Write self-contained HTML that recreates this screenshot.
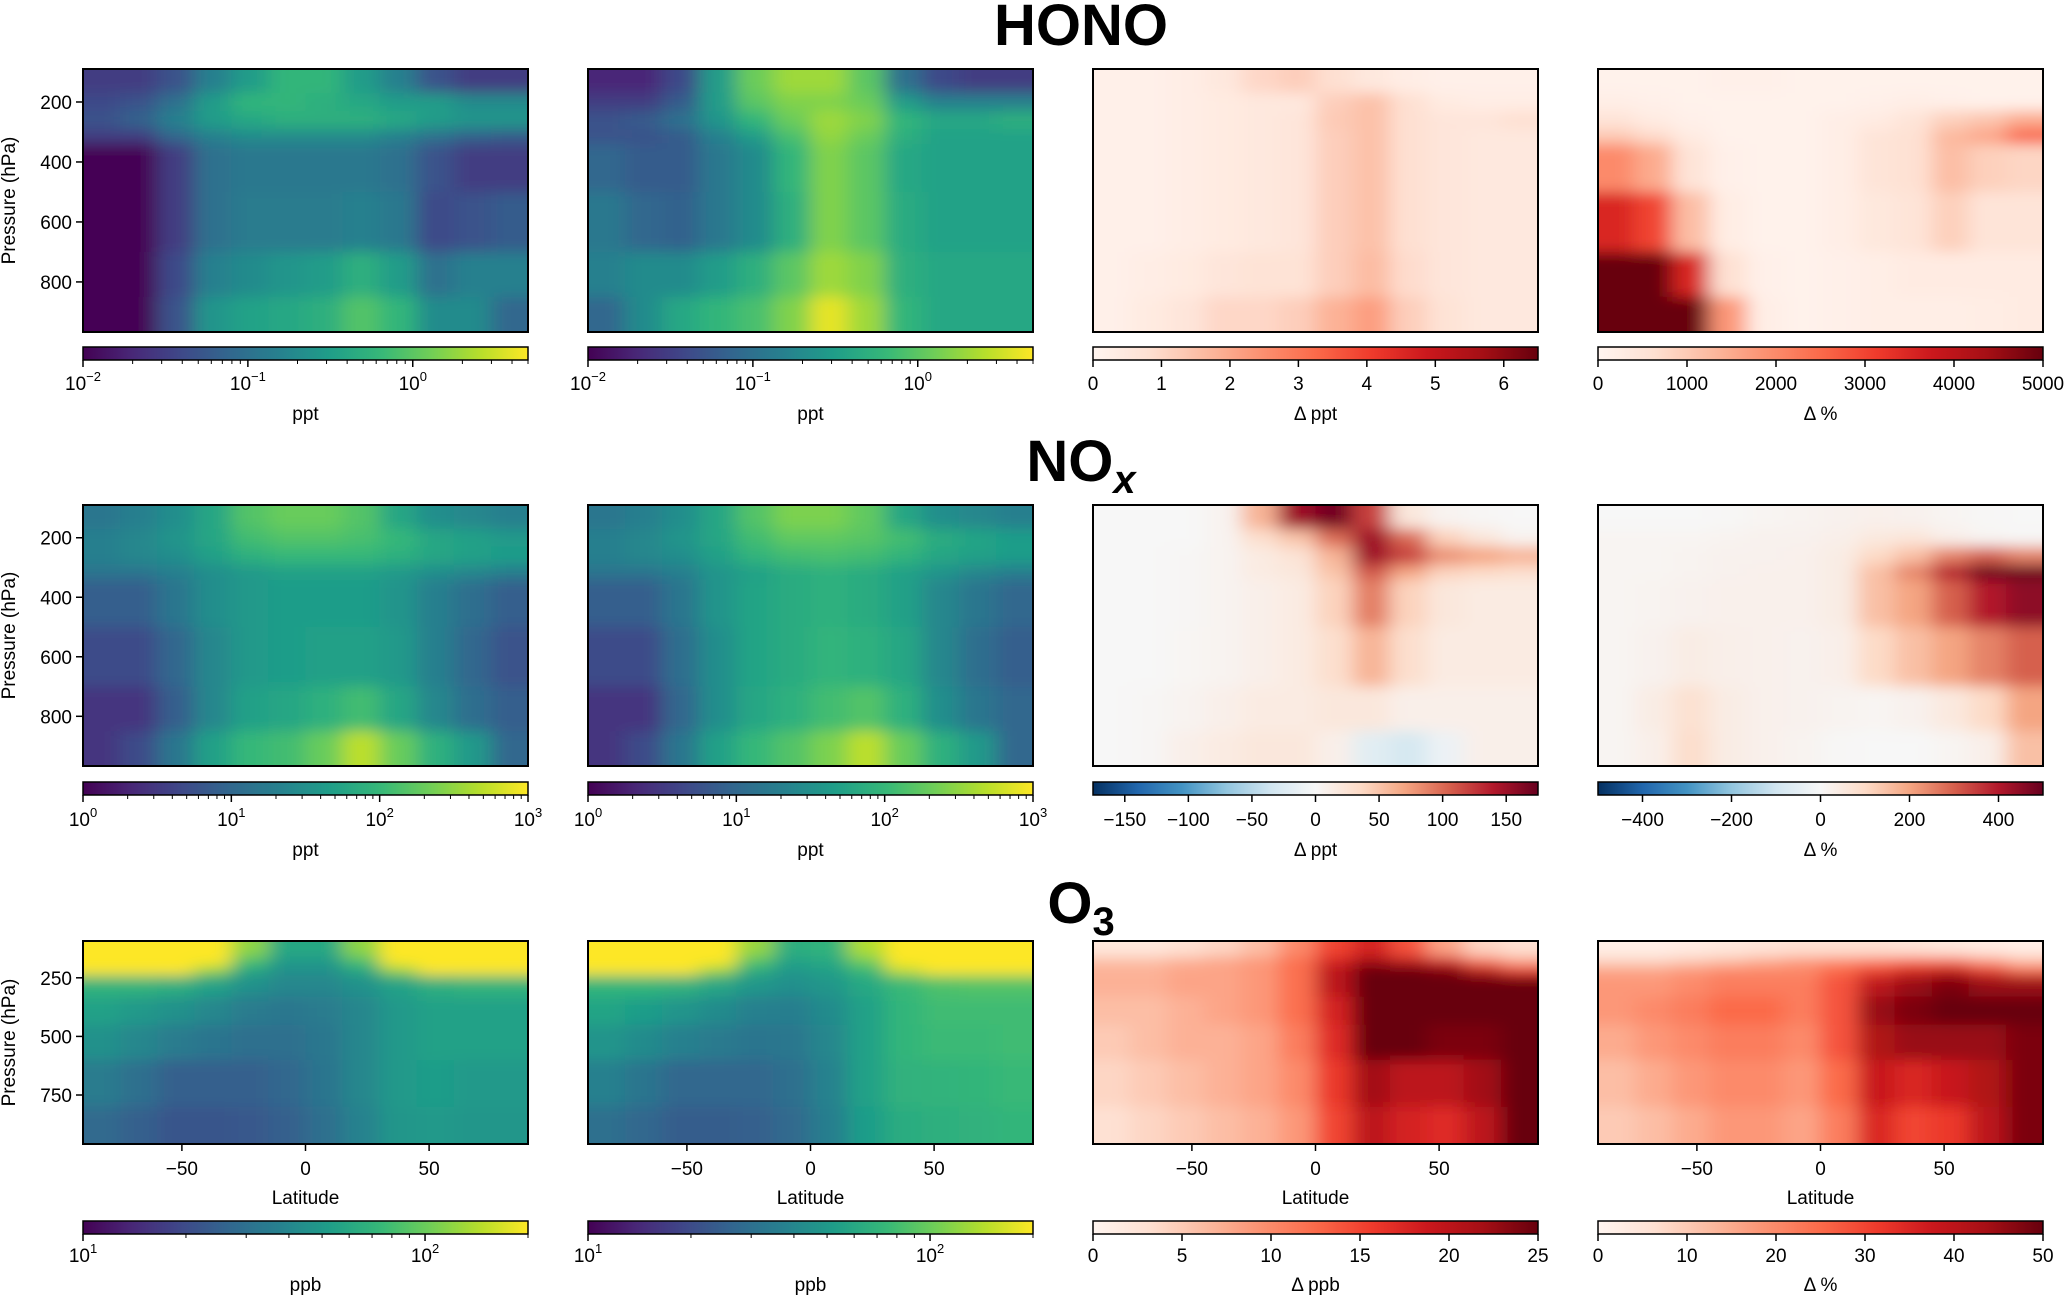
<!DOCTYPE html>
<html><head><meta charset="utf-8"><style>
html,body{margin:0;padding:0;background:#fff;}
svg{display:block;font-family:"Liberation Sans","DejaVu Sans",sans-serif;}
</style></head><body>
<svg id="fig" width="2067" height="1296" viewBox="0 0 2067 1296" xmlns="http://www.w3.org/2000/svg">
<defs>
<filter id="soft" x="-10%" y="-10%" width="120%" height="120%">
<feGaussianBlur stdDeviation="10 7"/>
</filter>
</defs>
<text x="1081" y="45" text-anchor="middle" font-size="58" font-weight="bold">HONO</text>
<text x="1081" y="481" text-anchor="middle" font-size="58" font-weight="bold">NO<tspan font-style="italic" font-size="40" dy="12">x</tspan></text>
<text x="1081" y="923" text-anchor="middle" font-size="58" font-weight="bold">O<tspan font-size="40" dy="12">3</tspan></text>
<g id="panels"></g>
</svg>
<script>
// ---------- data ----------
const latitudes = [-82.5,-67.5,-52.5,-37.5,-22.5,-7.5,7.5,22.5,37.5,52.5,67.5,82.5];
const pEdgesA = [90,170,230,290,340,500,700,850,967];
const pEdgesO3 = [93,160,200,240,330,450,600,800,959];
const yTicksA = [200,400,600,800];
const yTicksO3 = [250,500,750];
const latTicks = [-50,0,50];

const honoBase = [
[0.03,0.03,0.05,0.15,0.3,0.6,0.6,0.3,0.15,0.05,0.03,0.03],
[0.04,0.05,0.1,0.3,0.6,0.6,0.5,0.4,0.3,0.3,0.2,0.2],
[0.05,0.07,0.15,0.3,0.4,0.5,0.5,0.5,0.4,0.3,0.25,0.25],
[0.03,0.03,0.08,0.15,0.2,0.2,0.2,0.2,0.15,0.1,0.07,0.06],
[0.01,0.01,0.03,0.1,0.12,0.12,0.12,0.12,0.1,0.05,0.03,0.03],
[0.01,0.01,0.03,0.1,0.13,0.13,0.13,0.15,0.12,0.04,0.05,0.06],
[0.01,0.01,0.04,0.15,0.2,0.25,0.3,0.5,0.3,0.1,0.15,0.15],
[0.01,0.01,0.05,0.25,0.35,0.4,0.5,0.9,0.6,0.2,0.2,0.08]];
const honoPert = [
[0.02,0.02,0.04,0.3,1.2,2,2,1,0.1,0.04,0.03,0.03],
[0.03,0.03,0.06,0.3,1,1.5,1.5,1.2,0.3,0.15,0.15,0.15],
[0.05,0.06,0.1,0.25,0.6,1.2,2,1.5,0.6,0.4,0.4,0.5],
[0.05,0.05,0.06,0.15,0.3,0.8,1.8,1.2,0.5,0.35,0.35,0.35],
[0.08,0.06,0.06,0.12,0.2,0.6,1.5,1,0.4,0.35,0.35,0.35],
[0.12,0.08,0.07,0.12,0.2,0.5,1.5,1,0.45,0.35,0.35,0.35],
[0.15,0.2,0.2,0.3,0.5,1,2,1.5,0.5,0.4,0.4,0.4],
[0.08,0.2,0.4,0.6,0.8,1.5,4,2,0.6,0.4,0.4,0.4]];
const honoDiff = [
[0.2,0.2,0.3,0.5,1,1.2,0.8,0.5,0.3,0.2,0.2,0.2],
[0.2,0.2,0.3,0.4,0.5,0.5,1.2,1.5,0.8,0.4,0.3,0.3],
[0.2,0.2,0.3,0.4,0.5,0.6,1.3,1.5,0.8,0.6,0.6,0.8],
[0.2,0.2,0.3,0.4,0.5,0.6,1.2,1.5,0.8,0.6,0.5,0.5],
[0.2,0.2,0.3,0.4,0.5,0.6,1.2,1.5,0.8,0.6,0.5,0.5],
[0.2,0.2,0.3,0.4,0.5,0.6,1.2,1.5,0.8,0.6,0.5,0.5],
[0.2,0.3,0.4,0.6,0.7,0.7,1.2,1.6,0.9,0.6,0.5,0.5],
[0.2,0.4,0.6,1,1,1.2,1.8,2.2,1.2,0.7,0.5,0.5]];
const honoPct = [
[100,100,100,150,150,100,100,100,100,100,100,100],
[200,150,100,100,100,100,100,150,200,150,100,100],
[500,300,150,100,100,100,200,300,500,900,1100,1500],
[1000,700,300,100,100,100,200,500,600,1300,1600,2600],
[2000,1500,500,150,100,100,200,500,600,1200,900,800],
[3500,3000,1200,250,100,100,200,400,500,900,500,500],
[5000,5000,3500,600,150,100,150,200,300,300,300,300],
[5000,5000,5000,1800,200,100,150,200,200,200,250,300]];
const noxBase = [
[15,20,30,60,150,200,200,150,60,30,25,20],
[20,25,35,60,120,150,150,130,100,60,50,40],
[20,25,30,50,80,100,100,100,80,60,50,45],
[15,15,20,30,40,50,50,50,40,30,25,20],
[8,8,15,30,40,45,45,45,35,20,12,8],
[5,5,10,25,40,45,50,50,40,20,10,6],
[3,3,8,25,50,60,80,120,60,25,12,8],
[3,5,15,50,100,120,200,500,200,80,40,10]];
const noxPert = [
[15,20,30,60,150,250,250,180,60,30,25,20],
[20,25,35,60,120,180,180,160,120,70,55,45],
[20,25,30,50,90,120,130,120,90,60,50,45],
[15,15,20,35,50,70,80,70,50,35,25,20],
[8,8,15,35,55,70,80,70,50,25,15,10],
[5,5,12,30,55,70,90,80,60,25,12,8],
[3,3,10,30,60,80,120,150,80,30,15,10],
[3,5,15,50,100,150,250,500,200,80,40,10]];
const noxDiff = [
[0,0,0,5,60,150,170,120,20,5,2,0],
[0,0,0,5,30,50,100,150,100,40,20,5],
[0,0,2,5,15,25,60,150,120,80,70,60],
[0,0,2,5,15,20,50,110,70,40,35,30],
[0,0,2,5,10,15,40,90,40,20,15,15],
[0,0,3,5,10,15,30,60,30,15,15,15],
[0,2,5,10,15,15,20,20,10,10,10,10],
[0,2,10,15,20,20,10,-20,-30,-10,10,10]];
const noxPct = [
[0,0,0,5,10,15,20,25,20,10,5,0],
[10,10,10,15,20,20,30,50,60,30,10,5],
[10,10,15,20,20,25,40,100,150,250,300,250],
[10,10,15,20,25,25,40,150,250,400,500,500],
[10,15,20,25,25,25,40,150,200,300,400,450],
[10,20,40,30,25,20,30,100,150,200,250,300],
[10,40,80,40,25,20,15,10,20,50,100,200],
[10,30,90,40,25,15,5,0,0,10,30,150]];
const o3Base = [
[250,250,250,250,120,60,60,120,250,250,250,250],
[250,250,250,200,80,50,50,80,200,250,250,250],
[200,200,200,120,60,45,45,60,120,200,200,200],
[70,70,65,55,45,40,40,45,55,65,70,70],
[55,50,45,40,35,33,35,40,50,55,55,55],
[45,40,35,32,30,30,33,40,50,55,55,55],
[35,30,25,25,25,27,32,40,50,52,50,50],
[28,25,22,22,23,25,30,38,48,50,48,48]];
const o3Pert = [
[250,250,250,250,125,65,70,140,250,250,250,250],
[250,250,250,200,85,55,60,100,220,250,250,250],
[200,200,200,125,65,50,55,75,150,220,220,220],
[72,72,68,58,48,44,48,60,75,85,88,88],
[57,52,47,42,37,36,42,55,72,78,78,78],
[47,42,37,34,32,33,40,55,72,76,76,78],
[37,32,27,27,27,30,38,55,68,70,72,75],
[30,27,24,24,25,28,36,52,64,66,68,72]];
const o3Diff = [
[2,2,3,4,6,10,15,18,14,8,4,3],
[6,6,7,8,9,12,18,22,20,18,12,8],
[7,7,8,8,9,12,20,25,25,24,20,16],
[7,7,8,8,9,12,20,25,25,25,25,25],
[6,6,7,8,9,12,18,25,25,25,25,25],
[5,6,7,7,8,11,17,25,25,24,24,25],
[4,5,6,7,8,10,16,22,20,20,22,25],
[3,4,5,6,7,9,15,20,18,17,20,25]];
const o3Pct = [
[2,2,3,4,5,6,6,6,5,4,3,2],
[8,8,10,12,15,18,20,22,25,25,18,12],
[16,16,18,20,20,20,25,30,35,38,32,25],
[18,18,20,22,22,22,28,40,45,48,45,45],
[18,20,22,25,25,22,28,45,48,50,50,50],
[15,18,20,22,22,20,28,42,45,45,45,48],
[12,15,18,20,20,18,25,38,35,38,42,48],
[10,12,15,18,18,16,22,35,30,32,40,48]];

// colorbar tick values
const cbLogTicksHono = [-2,-1,0];
const cbLogTicksNox = [0,1,2,3];
const cbLogTicksO3 = [1,2];
const cbTicksHonoDiff = [0,1,2,3,4,5,6];
const cbTicksHonoPct = [0,1000,2000,3000,4000,5000];
const cbTicksNoxDiff = [-150,-100,-50,0,50,100,150];
const cbTicksNoxPct = [-400,-200,0,200,400];
const cbTicksO3Diff = [0,5,10,15,20,25];
const cbTicksO3Pct = [0,10,20,30,40,50];

// ---------- colormaps ----------
const VIR=['#440154','#482878','#3e4989','#31688e','#26828e','#1f9e89','#35b779','#6ece58','#b5de2b','#fde725'];
const REDS=['#fff5f0','#fee0d2','#fcbba1','#fc9272','#fb6a4a','#ef3b2c','#cb181d','#a50f15','#67000d'];
const RDBU=['#053061','#2166ac','#4393c3','#92c5de','#d1e5f0','#f7f7f7','#fddbc7','#f4a582','#d6604d','#b2182b','#67001f'];
function hex(h){return [1,3,5].map(i=>parseInt(h.substr(i,2),16));}
function cmap(list,t){t=Math.max(0,Math.min(1,t));const n=list.length-1;const f=t*n;const i=Math.min(n-1,Math.floor(f));const u=f-i;const a=hex(list[i]),b=hex(list[i+1]);
return 'rgb('+a.map((v,k)=>Math.round(v+(b[k]-v)*u)).join(',')+')';}

const NS='http://www.w3.org/2000/svg';
const root=document.getElementById('panels');
const defs=document.querySelector('defs');
function mk(tag,attrs,parent){const e=document.createElementNS(NS,tag);for(const k in attrs)e.setAttribute(k,attrs[k]);(parent||root).appendChild(e);return e;}

const colX=[83,588,1093,1598], W=445;
const rowsGeo=[{top:69,h:263,cb:347,lab:[390,420]},{top:505,h:261,cb:782,lab:[826,856]},{top:941,h:203,cb:1221,lab:[1262,1291]}];

const panels=[
 {r:0,c:0,data:honoBase,edges:pEdgesA,cm:VIR,log:true,min:-2,max:Math.log10(5),ticks:cbLogTicksHono,unit:'ppt',name:'hono-base'},
 {r:0,c:1,data:honoPert,edges:pEdgesA,cm:VIR,log:true,min:-2,max:Math.log10(5),ticks:cbLogTicksHono,unit:'ppt',name:'hono-perturbed'},
 {r:0,c:2,data:honoDiff,edges:pEdgesA,cm:REDS,min:0,max:6.5,ticks:cbTicksHonoDiff,unit:'Δ ppt',name:'hono-diff'},
 {r:0,c:3,data:honoPct,edges:pEdgesA,cm:REDS,min:0,max:5000,ticks:cbTicksHonoPct,unit:'Δ %',name:'hono-pct'},
 {r:1,c:0,data:noxBase,edges:pEdgesA,cm:VIR,log:true,min:0,max:3,ticks:cbLogTicksNox,unit:'ppt',name:'nox-base'},
 {r:1,c:1,data:noxPert,edges:pEdgesA,cm:VIR,log:true,min:0,max:3,ticks:cbLogTicksNox,unit:'ppt',name:'nox-perturbed'},
 {r:1,c:2,data:noxDiff,edges:pEdgesA,cm:RDBU,min:-175,max:175,ticks:cbTicksNoxDiff,unit:'Δ ppt',name:'nox-diff'},
 {r:1,c:3,data:noxPct,edges:pEdgesA,cm:RDBU,min:-500,max:500,ticks:cbTicksNoxPct,unit:'Δ %',name:'nox-pct'},
 {r:2,c:0,data:o3Base,edges:pEdgesO3,cm:VIR,log:true,min:1,max:Math.log10(200),ticks:cbLogTicksO3,unit:'ppb',name:'o3-base'},
 {r:2,c:1,data:o3Pert,edges:pEdgesO3,cm:VIR,log:true,min:1,max:Math.log10(200),ticks:cbLogTicksO3,unit:'ppb',name:'o3-perturbed'},
 {r:2,c:2,data:o3Diff,edges:pEdgesO3,cm:REDS,min:0,max:25,ticks:cbTicksO3Diff,unit:'Δ ppb',name:'o3-diff'},
 {r:2,c:3,data:o3Pct,edges:pEdgesO3,cm:REDS,min:0,max:50,ticks:cbTicksO3Pct,unit:'Δ %',name:'o3-pct'}];

panels.forEach((P,pi)=>{
 const g=rowsGeo[P.r], x0=colX[P.c];
 const e=P.edges, pTop=e[0], pBot=e[e.length-1];
 const xS=lat=>x0+(lat+90)/180*W;
 const yS=p=>g.top+(p-pTop)/(pBot-pTop)*g.h;
 const norm=v=>P.log?(Math.log10(Math.max(v,1e-9))-P.min)/(P.max-P.min):(v-P.min)/(P.max-P.min);
 const cpid='clip'+pi;
 const cp=mk('clipPath',{id:cpid},defs);
 mk('rect',{x:x0,y:g.top,width:W,height:g.h},cp);
 const outer=mk('g',{'clip-path':'url(#'+cpid+')'});
 
 
 const grp=mk('g',{filter:'url(#soft)'},outer);
 
 
 const cw=180/latitudes.length;
 const nR=P.data.length, nC=latitudes.length;
 P.data.forEach((row,ri)=>{row.forEach((v,ci)=>{
   let xa=xS(latitudes[ci]-cw/2), xb=xS(latitudes[ci]+cw/2);
   let ya=yS(e[ri]), yb=yS(e[ri+1]);
   if(ci===0)xa-=40; if(ci===nC-1)xb+=40;
   if(ri===0)ya-=40; if(ri===nR-1)yb+=40;
   const rc=mk('rect',{x:xa,y:ya,width:xb-xa+0.5,height:yb-ya+0.5,fill:cmap(P.cm,norm(v))},grp);
   
   
 });});
 const fr=mk('rect',{x:x0,y:g.top,width:W,height:g.h,fill:'none',stroke:'#000','stroke-width':2});
 
 
 if(P.c===0){
   (P.r===2?yTicksO3:yTicksA).forEach(t=>{
     mk('line',{x1:x0-7,x2:x0,y1:yS(t),y2:yS(t),stroke:'#000','stroke-width':1.5});
     const tx=mk('text',{x:x0-11,y:yS(t)+7,'text-anchor':'end','font-size':19});
     tx.textContent=t;
     
     
   });
   const yt=mk('text',{x:0,y:0,'text-anchor':'middle','font-size':19,transform:'translate(15,'+(g.top+g.h/2)+') rotate(-90)'});
   yt.textContent='Pressure (hPa)';
   
   
 }
 if(P.r===2){
   latTicks.forEach(t=>{
     mk('line',{x1:xS(t),x2:xS(t),y1:g.top+g.h,y2:g.top+g.h+7,stroke:'#000','stroke-width':1.5});
     const tx=mk('text',{x:xS(t),y:g.top+g.h+31,'text-anchor':'middle','font-size':19});
     tx.textContent=t<0?'−'+Math.abs(t):t;
     
     
   });
   const xt=mk('text',{x:x0+W/2,y:g.top+g.h+60,'text-anchor':'middle','font-size':19});
   xt.textContent='Latitude';
   
   
 }
 const gid='cbg'+pi;
 const lg=mk('linearGradient',{id:gid,x1:0,x2:1,y1:0,y2:0},defs);
 for(let k=0;k<=40;k++){mk('stop',{offset:k/40,'stop-color':cmap(P.cm,k/40)},lg);}
 const cb=mk('rect',{x:x0,y:g.cb,width:W,height:13,fill:'url(#'+gid+')',stroke:'#000','stroke-width':1.5});
 
 
 const cx=v=>x0+(v-P.min)/(P.max-P.min)*W;
 if(P.log){
   for(let d=Math.floor(P.min);d<P.max;d++){for(let m=2;m<=9;m++){const lv=d+Math.log10(m);if(lv>P.min&&lv<=P.max+1e-6)mk('line',{x1:cx(lv),x2:cx(lv),y1:g.cb+13,y2:g.cb+17,stroke:'#000','stroke-width':1});}}
 }
 P.ticks.forEach(t=>{
   const X=cx(t);
   mk('line',{x1:X,x2:X,y1:g.cb+13,y2:g.cb+20,stroke:'#000','stroke-width':1.5});
   const tx=mk('text',{x:X,y:g.lab[0],'text-anchor':'middle','font-size':19});
   if(P.log){tx.textContent='10';const s=mk('tspan',{dy:-9,'font-size':13},tx);s.textContent=t<0?'−'+Math.abs(t):t;}
   else tx.textContent=t<0?'−'+Math.abs(t):t;
   
   
 });
 const ul=mk('text',{x:x0+W/2,y:g.lab[1],'text-anchor':'middle','font-size':19});
 ul.textContent=P.unit;
 
 
});
</script>
</body></html>
